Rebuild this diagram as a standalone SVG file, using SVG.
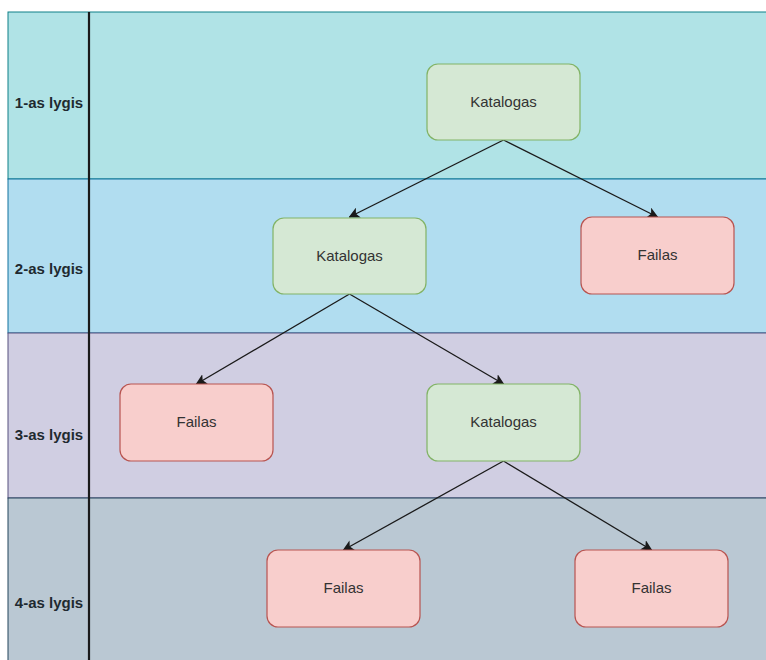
<svg xmlns="http://www.w3.org/2000/svg" width="766" height="660" viewBox="0 0 766 660">
<style>
.lbl{font-family:"Liberation Sans",Arial,sans-serif;font-size:15px;font-weight:bold;fill:#1f2a30;text-anchor:middle}
.nt{font-family:"Liberation Sans",Arial,sans-serif;font-size:15px;fill:#333;text-anchor:middle}
.dir{fill:#d5e8d4;stroke:#82b366;stroke-width:1.2}
.file{fill:#f8cecc;stroke:#b85450;stroke-width:1.2}
.edge{stroke:#1a1a1a;stroke-width:1.3;fill:none;marker-end:url(#arr)}
</style>
<defs>
<marker id="arr" viewBox="0 0 10 10" refX="9" refY="5" markerWidth="11" markerHeight="11" markerUnits="userSpaceOnUse" orient="auto">
<path d="M0,0 L10,5 L0,10 L2.5,5 Z" fill="#1a1a1a"/>
</marker>
</defs>
<rect width="766" height="660" fill="#ffffff"/>
<g id="lanes">
<rect x="8" y="12" width="770" height="167" fill="#b0e3e6" stroke="#0e8088" stroke-width="1"/>
<rect x="8" y="179" width="770" height="154" fill="#b1ddf0" stroke="#10739e" stroke-width="1"/>
<rect x="8" y="333" width="770" height="165" fill="#d0cee2" stroke="#56517e" stroke-width="1"/>
<rect x="8" y="498" width="770" height="180" fill="#bac8d3" stroke="#23445d" stroke-width="1"/>
<line x1="89" y1="12" x2="89" y2="660" stroke="#1a1a1a" stroke-width="2.2"/>
<text class="lbl" x="49" y="108">1-as lygis</text>
<text class="lbl" x="49" y="274">2-as lygis</text>
<text class="lbl" x="49" y="440">3-as lygis</text>
<text class="lbl" x="49" y="608">4-as lygis</text>
</g>
<g id="edges">
<line class="edge" x1="503.5" y1="140" x2="349.5" y2="217"/>
<line class="edge" x1="503.5" y1="140" x2="657.5" y2="217"/>
<line class="edge" x1="349.5" y1="294" x2="196.5" y2="384"/>
<line class="edge" x1="349.5" y1="294" x2="503.5" y2="384"/>
<line class="edge" x1="503.5" y1="461" x2="343.5" y2="550"/>
<line class="edge" x1="503.5" y1="461" x2="651.5" y2="550"/>
</g>
<g id="k1"><rect class="dir" x="427" y="64" width="153" height="76" rx="11"/><text class="nt" x="503.5" y="107">Katalogas</text></g>
<g id="k2"><rect class="dir" x="273" y="218" width="153" height="76" rx="11"/><text class="nt" x="349.5" y="261">Katalogas</text></g>
<g id="f1"><rect class="file" x="581" y="217" width="153" height="77" rx="11"/><text class="nt" x="657.5" y="260">Failas</text></g>
<g id="f2"><rect class="file" x="120" y="384" width="153" height="77" rx="11"/><text class="nt" x="196.5" y="427">Failas</text></g>
<g id="k3"><rect class="dir" x="427" y="384" width="153" height="77" rx="11"/><text class="nt" x="503.5" y="427">Katalogas</text></g>
<g id="f3"><rect class="file" x="267" y="550" width="153" height="77" rx="11"/><text class="nt" x="343.5" y="593">Failas</text></g>
<g id="f4"><rect class="file" x="575" y="550" width="153" height="77" rx="11"/><text class="nt" x="651.5" y="593">Failas</text></g>
</svg>
